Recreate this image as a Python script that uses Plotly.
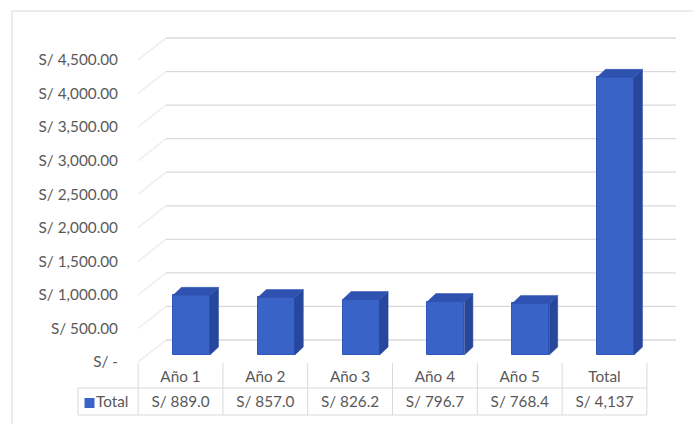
import plotly.graph_objects as go

categories = ["Año 1", "Año 2", "Año 3", "Año 4", "Año 5", "Total"]
values = [889.0, 857.0, 826.2, 796.7, 768.4, 4137.0]
value_labels = ["S/ 889.0", "S/ 857.0", "S/ 826.2", "S/ 796.7", "S/ 768.4", "S/ 4,137"]
tick_vals = [0, 500, 1000, 1500, 2000, 2500, 3000, 3500, 4000, 4500]
tick_text = ["S/ -", "S/ 500.00", "S/ 1,000.00", "S/ 1,500.00", "S/ 2,000.00",
             "S/ 2,500.00", "S/ 3,000.00", "S/ 3,500.00", "S/ 4,000.00", "S/ 4,500.00"]
series_name = "Total"

W, H = 693, 424
# pixel geometry of the layout (front plane)
X0PX, XSTEP = 180.5, 84.8          # pixel of category 0 centre, pixels per category
Y0PX, YTOPPX = 362.0, 60.0          # pixel of value 0 and of 4500 on the front plane
K = (tick_vals[-1] - tick_vals[0]) / (Y0PX - YTOPPX)   # value units per pixel


def xd(px):
    return (px - X0PX) / XSTEP


def yd(py):
    return (Y0PX - py) * K


TEXT = "#595959"
GRID = "#D9D9D9"
FONT = "Lato"
FS = 15.3

FRONT = "#3A63C8"
SIDE = "#27479C"
TOP = "#2F52B0"

# depth offsets
DEPTH_DY_WALL = 22 * K
BAR_DX = 8.5 / XSTEP
BAR_DY = 8 * K
BAR_SHIFT = 11 / XSTEP
BAR_HALF = 18.5 / XSTEP
BASE = yd(355)

fig = go.Figure()

shapes = []
# back wall gridlines and side wall lines (drawn below the bars)
for v in tick_vals:
    shapes.append(dict(type="line", xref="x", yref="y", layer="below",
                       x0=xd(166), x1=xd(676), y0=v + DEPTH_DY_WALL, y1=v + DEPTH_DY_WALL,
                       line=dict(color=GRID, width=1.3)))
    shapes.append(dict(type="line", xref="x", yref="y", layer="below",
                       x0=xd(138), x1=xd(166), y0=v, y1=v + DEPTH_DY_WALL,
                       line=dict(color="#EBEBEB", width=1.3)))

# front faces
xs = [i + BAR_SHIFT for i in range(len(categories))]
fig.add_trace(go.Bar(x=xs, y=values, base=[BASE] * len(values), width=2 * BAR_HALF,
                     marker=dict(color=FRONT, line=dict(color="#2F56B8", width=1)),
                     name=series_name, showlegend=False, hoverinfo="skip"))

# side and top faces
for i, v in enumerate(values):
    xl = xs[i] - BAR_HALF
    xr = xs[i] + BAR_HALF
    top = BASE + v
    fig.add_trace(go.Scatter(
        x=[xr, xr + BAR_DX, xr + BAR_DX, xr, xr],
        y=[BASE, BASE + BAR_DY, top + BAR_DY, top, BASE],
        mode="lines", fill="toself", fillcolor=SIDE, line=dict(color=SIDE, width=0.5),
        hoverinfo="skip", showlegend=False))
    fig.add_trace(go.Scatter(
        x=[xl, xl + BAR_DX, xr + BAR_DX, xr, xl],
        y=[top, top + BAR_DY, top + BAR_DY, top, top],
        mode="lines", fill="toself", fillcolor=TOP, line=dict(color=TOP, width=0.5),
        hoverinfo="skip", showlegend=False))

# data table lines
n = len(categories)
tx, ty = [], []
for j in range(n + 1):
    tx += [j - 0.5, j - 0.5, None]
    ty += [yd(363), yd(415), None]
tx += [xd(78), n - 0.5, None, xd(78), n - 0.5, None, xd(78), xd(78), None]
ty += [yd(388), yd(388), None, yd(415), yd(415), None, yd(388), yd(415), None]
fig.add_trace(go.Scatter(x=tx, y=ty, mode="lines", line=dict(color=GRID, width=1),
                         hoverinfo="skip", showlegend=False))

# table text
fig.add_trace(go.Scatter(x=list(range(n)), y=[yd(378.5)] * n, mode="text", text=categories,
                         textfont=dict(family=FONT, size=FS, color=TEXT),
                         hoverinfo="skip", showlegend=False))
fig.add_trace(go.Scatter(x=list(range(n)), y=[yd(403.5)] * n, mode="text", text=value_labels,
                         textfont=dict(family=FONT, size=FS, color=TEXT),
                         hoverinfo="skip", showlegend=False))
# legend key
fig.add_trace(go.Scatter(x=[xd(89.5)], y=[yd(403)], mode="markers",
                         marker=dict(symbol="square", size=10, color=FRONT),
                         hoverinfo="skip", showlegend=False))
fig.add_trace(go.Scatter(x=[xd(96)], y=[yd(403.5)], mode="text", text=[series_name],
                         textposition="middle right",
                         textfont=dict(family=FONT, size=FS, color=TEXT),
                         hoverinfo="skip", showlegend=False))

# chart border (left and top)
shapes += [
    dict(type="line", xref="paper", yref="paper", x0=12 / W, x1=1, y0=1 - 11 / H, y1=1 - 11 / H,
         line=dict(color=GRID, width=1)),
    dict(type="line", xref="paper", yref="paper", x0=12 / W, x1=12 / W, y0=0, y1=1 - 11 / H,
         line=dict(color=GRID, width=1)),
]

fig.update_layout(
    width=W, height=H, margin=dict(l=0, r=0, t=0, b=0),
    paper_bgcolor="white", plot_bgcolor="white",
    bargap=0,
    xaxis=dict(range=[xd(0), xd(W)], domain=[0, 1], visible=False, fixedrange=True),
    yaxis=dict(range=[yd(H), yd(0)], domain=[0, 1], anchor="free", position=118 / W,
               tickvals=tick_vals, ticktext=tick_text, showgrid=False, zeroline=False,
               showline=False, ticks="", tickfont=dict(family=FONT, size=FS, color=TEXT),
               fixedrange=True),
    font=dict(family=FONT, size=FS, color=TEXT),
    shapes=shapes,
)

fig.write_html("out.html")
